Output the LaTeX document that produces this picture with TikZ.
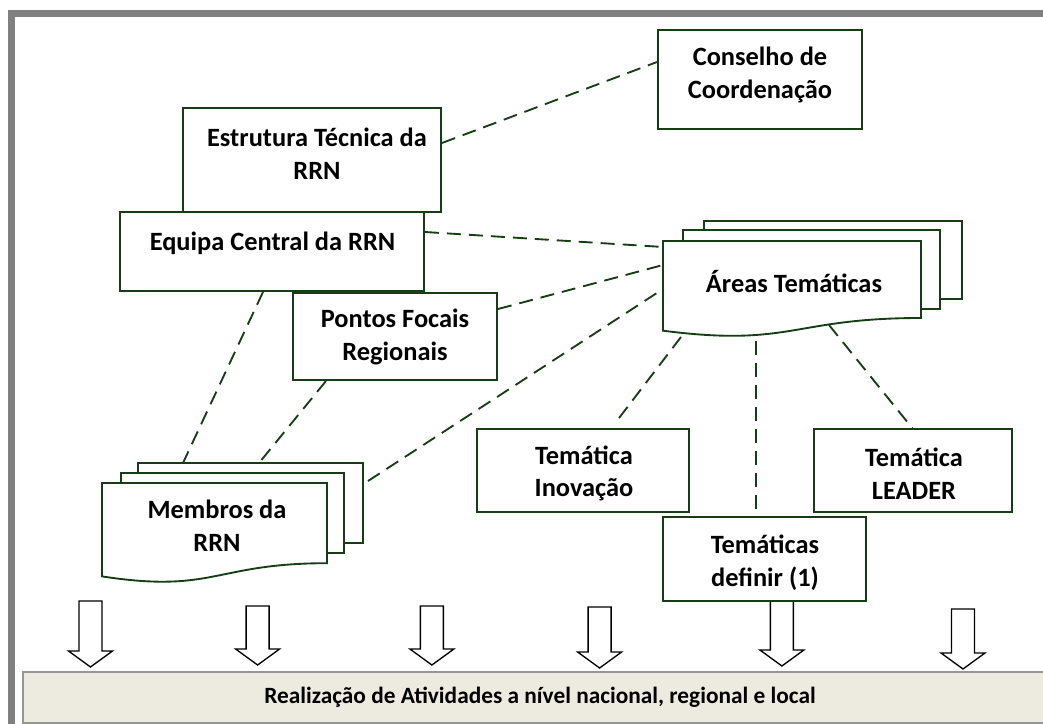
\documentclass[tikz,border=0pt]{standalone}
\usepackage{fontspec}
\setmainfont{Carlito}
\usetikzlibrary{calc}
\definecolor{dg}{RGB}{22,62,20}
\definecolor{framegray}{RGB}{128,128,128}
\definecolor{barfill}{RGB}{237,235,224}
\definecolor{bargray}{RGB}{150,150,150}
\newcommand\boxat[5]{\node[box, minimum width={(#4-#2)*0.75pt}, minimum height={(#5-#3)*0.75pt}] (#1) at ({(#2+#4)/2},{(#3+#5)/2}) {};}
\begin{document}
\begin{tikzpicture}[x=0.75pt,y=-0.75pt,
  box/.style={draw=dg, line width=1.4pt, fill=white, inner sep=0pt, outer sep=0pt},
  docline/.style={draw=dg, line width=1.4pt, fill=white, line join=miter},
  lbl/.style={font=\bfseries\fontsize{19.8}{24.4}\selectfont, align=center, inner sep=0pt, text=black},
  bartxt/.style={font=\bfseries\fontsize{17.5}{20}\selectfont, inner sep=0pt, text=black},
  link/.style={draw=dg, line width=1.4pt, dash pattern=on 10.5pt off 6pt},
  blockarrow/.style={draw=black, line width=1pt, fill=white, line join=miter}]
\useasboundingbox (0,0) rectangle (1043,724);
\clip (0,0) rectangle (1043,724);
% frame
\draw[framegray, line width=5.25pt, line join=miter] (1080,13.5) -- (11.5,13.5) -- (11.5,760);
% bottom bar
\draw[draw=bargray, line width=1.5pt, fill=barfill] (23,672) rectangle (1070,723);
\node[bartxt] (bart) at (540,697) {Realização de Atividades a nível nacional, regional e local};
% arrows
\foreach \cx/\ty/\tip in {90.5/601/667, 257.6/606/665, 431.9/606/665, 599.6/607/668, 781.9/601/666, 963/609/669}{
  \pgfmathsetmacro{\hb}{\tip-16}
  \draw[blockarrow] (\cx-11.5,\ty) -- (\cx+11.5,\ty) -- (\cx+11.5,\hb) -- (\cx+22,\hb) -- (\cx,\tip) -- (\cx-22,\hb) -- (\cx-11.5,\hb) -- cycle;
}
% boxes
\boxat{cons}{658}{30}{862}{129}
\node[lbl] (const) at (760,75) {Conselho de\\Coordenação};
\boxat{est}{183}{108}{441}{212}
\node[lbl] (estt) at (317,153.5) {Estrutura Técnica da\\RRN};
\boxat{eq}{120}{212}{424}{291}
\node[lbl] (eqt) at (272.5,243) {Equipa Central da RRN};
\boxat{pf}{293}{293}{497}{380}
\node[lbl] (pft) at (395,337) {Pontos Focais\\Regionais};
\boxat{inov}{477}{429}{689}{512}
\node[lbl] (inovt) at (584,473.5) {Temática\\Inovação};
\boxat{lead}{814}{429}{1012}{512}
\node[lbl] (leadt) at (914,473.5) {Temática\\LEADER};
\boxat{def}{663}{517}{866}{601}
\node[lbl] (deft) at (765,562.5) {Temáticas\\definir (1)};
% Areas Tematicas (multi document)
\draw[docline] (704,221) rectangle (962,299);
\draw[docline] (683,230) rectangle (940,309);
\draw[docline] (663,241) -- (921,241) -- (921,318) .. controls (792,318) and (792,347.3) .. (663,330.7) -- cycle;
\node[lbl] (areas) at (794,282) {Áreas Temáticas};
% Membros da RRN (multi document)
\draw[docline] (138,463) rectangle (363,543);
\draw[docline] (121,473) rectangle (344,553);
\draw[docline] (102,483) -- (327,483) -- (327,563.2) .. controls (214.5,563.2) and (214.5,593.7) .. (102,576.4) -- cycle;
\node[lbl] (memb) at (217,526) {Membros da\\RRN};
% connector end points
\coordinate (estE) at (442,143);
\coordinate (consW) at (657,62);
\coordinate (eqE) at (425,232);
\coordinate (arA) at (663,247);
\coordinate (pfE) at (498,309);
\coordinate (arB) at (663,265);
\coordinate (mbE) at (368,481);
\coordinate (arC) at (663,289);
\coordinate (eqS) at (263,292);
\coordinate (mbN1) at (183,463);
\coordinate (pfS) at (326,381);
\coordinate (mbN2) at (259,463);
\coordinate (arS1) at (681,337);
\coordinate (inovN) at (616,422);
\coordinate (arS2) at (756,341);
\coordinate (defN) at (756,513);
\coordinate (arS3) at (829,325);
\coordinate (leadN) at (913,429);
% connectors
\draw[link] (estE) -- (consW);
\draw[link] (eqE) -- (arA);
\draw[link] (pfE) -- (arB);
\draw[link] (mbE) -- (arC);
\draw[link] (eqS) -- (mbN1);
\draw[link] (pfS) -- (mbN2);
\draw[link] (arS1) -- (inovN);
\draw[link] (arS2) -- (defN);
\draw[link] (arS3) -- (leadN);
\end{tikzpicture}
\end{document}
